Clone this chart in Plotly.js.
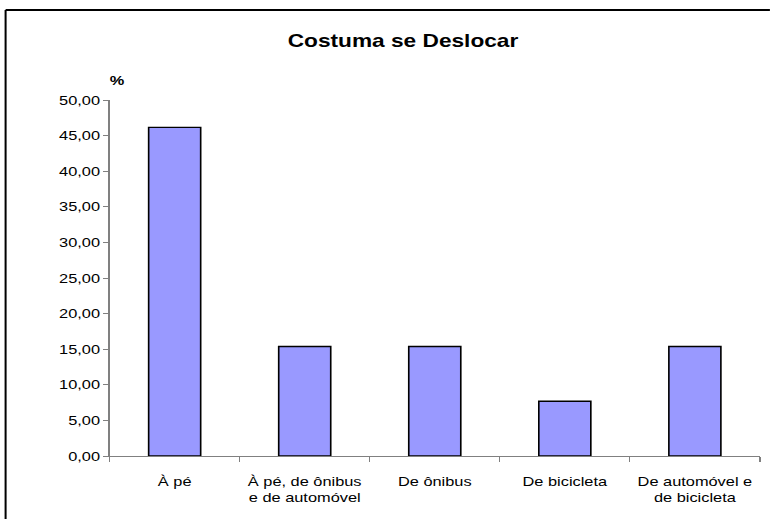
<!DOCTYPE html>
<html>
<head>
<meta charset="utf-8">
<script src="https://cdn.plot.ly/plotly-3.0.1.min.js"></script>
<style>
html,body{margin:0;padding:0;background:#fff;overflow:hidden;}
#wrap{width:770px;height:519px;overflow:hidden;position:relative;}
#chart{width:611px;height:519px;transform-origin:0 0;transform:scaleX(1.2602);position:absolute;left:0;top:0;}
</style>
</head>
<body>
<div id="wrap"><div id="chart"></div></div>
<script>
const categories = ["À pé", "À pé, de ônibus e de automóvel", "De ônibus", "De bicicleta", "De automóvel e de bicicleta"];
const tickLabels = ["À pé", "À pé, de ônibus<br>e de automóvel", "De ônibus", "De bicicleta", "De automóvel e<br>de bicicleta"];
const percentValues = [46.15, 15.38, 15.38, 7.69, 15.38];
const chartTitle = "Costuma se Deslocar";
const yUnitLabel = "%";

const font = "Liberation Sans, Arial, sans-serif";
const S = 770 / 611; // horizontal stretch of the reference image

const trace = {
  type: "bar",
  x: categories,
  y: percentValues,
  marker: {color: "#9999FF", line: {color: "#000000", width: 1.3}},
  hoverinfo: "x+y"
};

const layout = {
  width: 611, height: 519,
  margin: {l: 110 / S, r: 611 - 760 / S, t: 100, b: 63},
  paper_bgcolor: "#ffffff", plot_bgcolor: "#ffffff",
  separators: ",.",
  font: {family: font, size: 13, color: "#000000"},
  showlegend: false,
  bargap: 0.6,
  title: {
    text: "<b>" + chartTitle + "</b>",
    font: {family: font, size: 18, color: "#000000"},
    xref: "container", x: 403 / 770, xanchor: "center",
    yref: "container", y: 1 - 41 / 519, yanchor: "middle"
  },
  xaxis: {
    type: "category",
    tickmode: "array", tickvals: categories, ticktext: tickLabels,
    tickson: "boundaries",
    ticks: "outside", ticklen: 5, tickcolor: "#808080", tickwidth: 1,
    ticklabelstandoff: 13,
    showline: true, linecolor: "#808080", linewidth: 1,
    showgrid: false, zeroline: false,
    tickfont: {family: font, size: 13, color: "#000000"},
    fixedrange: true
  },
  yaxis: {
    range: [0, 50], dtick: 5, tick0: 0, tickformat: ".2f",
    ticks: "outside", ticklen: 4, tickcolor: "#808080", tickwidth: 1,
    ticklabelstandoff: 0,
    showline: true, linecolor: "#808080", linewidth: 1,
    showgrid: false, zeroline: false,
    tickfont: {family: font, size: 13, color: "#000000"},
    fixedrange: true
  },
  annotations: [{
    text: "<b>" + yUnitLabel + "</b>",
    xref: "paper", yref: "paper",
    x: (118 - 110) / 650, y: (456 - 80) / 356,
    xanchor: "center", yanchor: "middle", showarrow: false,
    font: {family: font, size: 13, color: "#000000"}
  }],
  shapes: [
    {type: "line", xref: "paper", yref: "paper",
     x0: (6 - 110) / 650, x1: (770 - 110) / 650, y0: (456 - 10) / 356, y1: (456 - 10) / 356,
     line: {color: "#000000", width: 1.8}, layer: "below"},
    {type: "line", xref: "paper", yref: "paper",
     x0: (6 - 110) / 650, x1: (6 - 110) / 650, y0: (456 - 10) / 356, y1: (456 - 519) / 356,
     line: {color: "#000000", width: 1.6}, layer: "below"}
  ]
};

Plotly.newPlot("chart", [trace], layout, {displayModeBar: false, staticPlot: true});
</script>
</body>
</html>
